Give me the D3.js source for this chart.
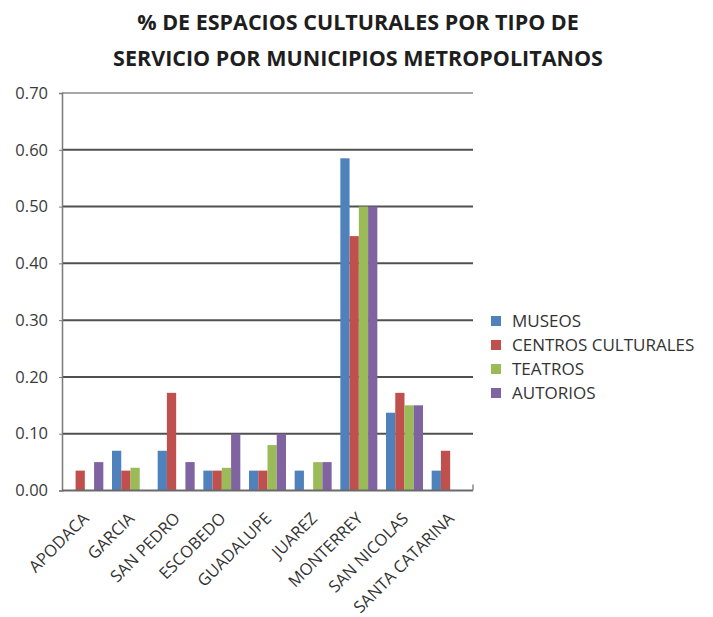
<!DOCTYPE html>
<html><head><meta charset="utf-8">
<script src="https://cdn.jsdelivr.net/npm/d3@7"></script>
<style>body{margin:0;background:#fff;} svg{display:block;}</style>
</head><body>
<script>
const categories = ["APODACA","GARCIA","SAN PEDRO","ESCOBEDO","GUADALUPE","JUAREZ","MONTERREY","SAN NICOLAS","SANTA CATARINA"];
const seriesNames = ["MUSEOS","CENTROS CULTURALES","TEATROS","AUTORIOS"];
const museos     = [0,    0.07, 0.07, 0.035, 0.035, 0.035, 0.585, 0.137, 0.035];
const centros    = [0.035,0.035,0.172,0.035, 0.035, 0,     0.448, 0.172, 0.07];
const teatros    = [0,    0.04, 0,    0.04,  0.08,  0.05,  0.50,  0.15,  0];
const autorios   = [0.05, 0,    0.05, 0.10,  0.10,  0.05,  0.50,  0.15,  0];
const colors = ["#4F81BD","#C0504D","#9BBB59","#8064A2"];
const yTicks = [0,0.1,0.2,0.3,0.4,0.5,0.6,0.7];
const titleLines = ["% DE ESPACIOS CULTURALES POR TIPO DE","SERVICIO POR MUNICIPIOS METROPOLITANOS"];

const series = [museos, centros, teatros, autorios];
const W = 713, H = 617;
const svg = d3.select("body").append("svg").attr("width", W).attr("height", H);
const font = "Open Sans, Lato, sans-serif";

const mLeft = 62, mRight = 473, mTop = 93, mBottom = 490.5;
const x0 = d3.scaleBand().domain(categories).range([mLeft, mRight]).paddingInner(0.19).paddingOuter(0.095);
const x1 = d3.scaleBand().domain(d3.range(4)).range([0, x0.bandwidth()]);
const y = d3.scaleLinear().domain([0, 0.7]).range([mBottom, mTop]);

// title
svg.append("g").selectAll("text").data(titleLines).join("text")
  .attr("x", 358).attr("y", (d,i)=> 30 + i*36)
  .attr("text-anchor","middle")
  .attr("font-family", font).attr("font-weight","bold").attr("font-size", 21.5)
  .attr("fill","#1e1e1e").text(d=>d);

// gridlines
svg.append("g").selectAll("line").data(yTicks.filter(t=>t>0)).join("line")
  .attr("x1", mLeft).attr("x2", mRight)
  .attr("y1", d=>y(d)).attr("y2", d=>y(d))
  .attr("stroke", d => d === 0.7 ? "#8a8a8a" : "#505050")
  .attr("stroke-width", d => d === 0.7 ? 1.5 : 2);

// bars
const g = svg.append("g");
categories.forEach((c, ci) => {
  series.forEach((s, si) => {
    const v = s[ci];
    if (v <= 0) return;
    g.append("rect")
      .attr("x", x0(c) + x1(si))
      .attr("y", y(v))
      .attr("width", x1.bandwidth())
      .attr("height", y(0) - y(v))
      .attr("fill", colors[si]);
  });
});

// y axis
const yAxis = d3.axisLeft(y).tickValues(yTicks).tickFormat(d3.format(".2f")).tickSize(3).tickPadding(11);
const ya = svg.append("g").attr("transform", `translate(${mLeft},0)`).call(yAxis);
ya.select(".domain").attr("stroke","#7a7a7a").attr("stroke-width",1.5);
ya.selectAll(".tick line").attr("stroke","#7a7a7a");
ya.selectAll("text").attr("font-family", font).attr("font-size", 16.5).attr("fill","#3a3a3a");

// x axis baseline
svg.append("line").attr("x1", mLeft).attr("x2", mRight).attr("y1", mBottom).attr("y2", mBottom)
  .attr("stroke","#6a6a6a").attr("stroke-width",2);
svg.append("line").attr("x1", mRight).attr("x2", mRight).attr("y1", mBottom-6).attr("y2", mBottom)
  .attr("stroke","#8a8a8a").attr("stroke-width",1.5);

// x labels
svg.append("g").selectAll("text").data(categories).join("text")
  .attr("transform", d => `translate(${x0(d)+x0.bandwidth()/2+5},${mBottom+29}) rotate(-45)`)
  .attr("text-anchor","end")
  .attr("font-family", font).attr("font-size", 16.5).attr("fill","#333")
  .text(d=>d);

// legend
const lg = svg.append("g").attr("transform","translate(491,316)");
seriesNames.forEach((n,i)=>{
  lg.append("rect").attr("x",0).attr("y", i*24).attr("width",10).attr("height",10).attr("fill",colors[i]);
  lg.append("text").attr("x",21).attr("y", i*24+11).attr("font-family",font).attr("font-size",17)
    .attr("fill","#333").text(n);
});
</script>
</body></html>
